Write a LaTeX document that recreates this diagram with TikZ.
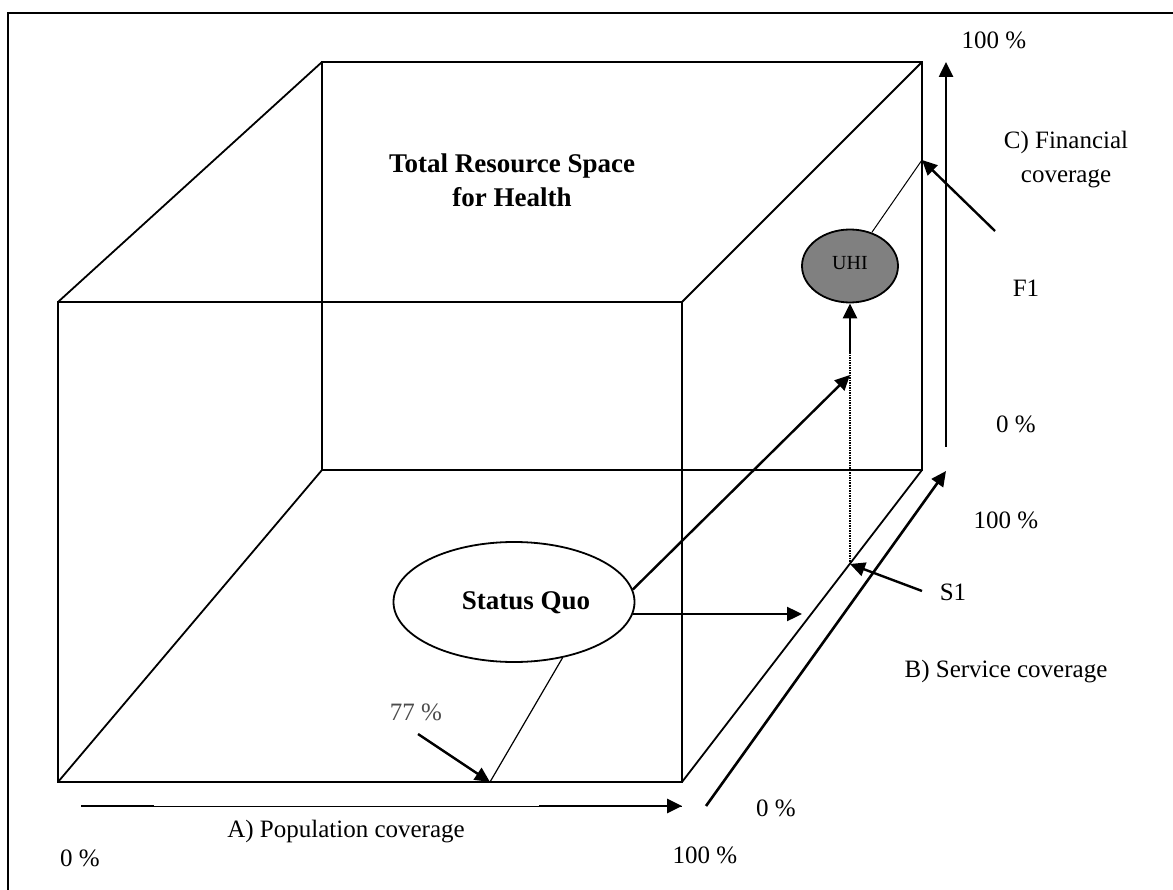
\documentclass[tikz,border=0pt]{standalone}
\usepackage{fontspec}
\setmainfont{Liberation Serif}
\usetikzlibrary{arrows.meta,shapes.geometric}
\begin{document}
\begin{tikzpicture}[x=1pt,y=-1pt,
    edge/.style={line width=1.8pt},
    axis/.style={line width=2.6pt,-{Triangle[length=15pt,width=14pt]}},
    pointer/.style={line width=2.4pt,-{Triangle[length=15pt,width=14pt]}},
    lbl/.style={font=\fontsize{25}{34}\selectfont,inner sep=0pt,align=center},
    boldlbl/.style={font=\fontsize{27}{34}\selectfont\bfseries,inner sep=0pt,align=center}]
\useasboundingbox (0,0) rectangle (1173,890);
% frame
\draw[line width=2pt] (8,890) -- (8,13) -- (1173,13);
% cube
\coordinate (ftl) at (58,302);  \coordinate (ftr) at (682,302);
\coordinate (fbl) at (58,782);  \coordinate (fbr) at (682,782);
\coordinate (btl) at (322,62);  \coordinate (btr) at (922,62);
\coordinate (bbl) at (322,470); \coordinate (bbr) at (922,470);
\draw[edge] (ftl) rectangle (fbr);
\draw[edge] (btl) rectangle (bbr);
\foreach \f/\b in {ftl/btl,ftr/btr,fbl/bbl,fbr/bbr}
    \draw[edge] (\f) -- (\b);
\node[boldlbl] (title) at (512,180) {Total Resource Space\\for Health};
% status quo and UHI
\node[draw,ellipse,line width=1.8pt,fill=white,minimum width=241pt,minimum height=120pt] (sq) at (514,602) {};
\node[boldlbl] (sqtext) at (526,603) {Status Quo};
\node[draw,ellipse,line width=1.8pt,fill=black!50,minimum width=96pt,minimum height=73pt] (uhi) at (850,266) {};
\node[font=\fontsize{20}{24}\selectfont,inner sep=0pt] (uhitext) at (850,263) {UHI};
% points on the edges
\coordinate (p77) at (490,782);
\coordinate (s1pt) at (850,564);
\coordinate (f1pt) at (922,160);
\coordinate (mid) at (850,375);
\coordinate (dotend) at (850,352);
\coordinate (right) at (802,614);
\draw[pointer] (sq.6) -- (mid);
\draw[pointer] (sq.-6 |- right) -- (right);
\draw[line width=1.2pt] (sq.-49) -- (p77);
\draw[line width=1.4pt,dash pattern=on 1.5pt off 1pt] (s1pt) -- (dotend);
\draw[pointer] (dotend) -- (uhi.south);
\draw[line width=1pt] (uhi.57) -- (f1pt);
% axes
\coordinate (pa0) at (81,806);   \coordinate (pa1) at (682,806);
\coordinate (pa2) at (154,806);  \coordinate (pa3) at (539,806);
\draw[line width=1pt] (pa0) -- (pa1);
\draw[line width=2.6pt] (pa0) -- (pa2);
\draw[axis] (pa3) -- (pa1);
\coordinate (sa0) at (706,806);  \coordinate (sa1) at (946,471);
\draw[axis] (sa0) -- (sa1);
\coordinate (fa0) at (946,447);  \coordinate (fa1) at (946,62);
\draw[axis] (fa0) -- (fa1);
% pointers to the marks
\coordinate (t77) at (418,734);
\coordinate (ts1) at (922,591);
\coordinate (tf1) at (995,231);
\draw[pointer] (t77) -- (p77);
\draw[pointer] (ts1) -- (s1pt);
\draw[pointer] (tf1) -- (f1pt);
% labels
\node[lbl,text=black!70] (l77) at (416,712) {77 \%};
\node[lbl] (lpop) at (346,832) {A) Population coverage};
\node[lbl] (l0a) at (80,858) {0 \%};
\node[lbl] (l100a) at (705,855) {100 \%};
\node[lbl] (l0b) at (776,808) {0 \%};
\node[lbl] (l100b) at (1006,520) {100 \%};
\node[lbl] (ls1) at (953,592) {S1};
\node[lbl] (lserv) at (1006,672) {B) Service coverage};
\node[lbl] (l0c) at (1016,424) {0 \%};
\node[lbl] (lf1) at (1026,288) {F1};
\node[lbl] (lfin) at (1066,160) {C) Financial\\coverage};
\node[lbl] (l100c) at (994,40) {100 \%};
\end{tikzpicture}
\end{document}
